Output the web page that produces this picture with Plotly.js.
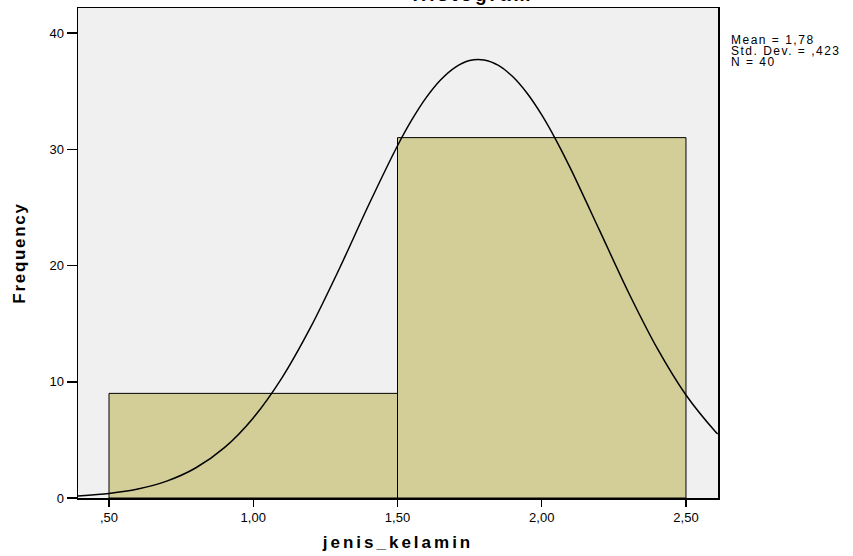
<!DOCTYPE html>
<html><head><meta charset="utf-8">
<script src="https://cdn.plot.ly/plotly-3.0.1.min.js"></script>
<style>
body{margin:0;background:#fff}#c{width:853px;height:556px}
#c .xtitle{letter-spacing:3px}
#c .ytitle{letter-spacing:1.7px}
#c .annotation[data-index="0"] .annotation-text,
#c .annotation[data-index="1"] .annotation-text,
#c .annotation[data-index="2"] .annotation-text{letter-spacing:1.5px}
#c .annotation[data-index="3"] .annotation-text{letter-spacing:3px}
</style>
</head><body><div id="c"></div>
<script>
// Histogram data
const binEdges = [0.5, 1.5, 2.5];
const counts = [9, 31];
// Normal curve
const curveX = [0.39,0.5,0.6,0.7,0.8,0.9,1.0,1.1,1.2,1.3,1.4,1.5,1.55,1.6,1.65,1.7,1.75,1.8,1.85,1.9,1.95,2.0,2.05,2.1,2.2,2.3,2.4,2.5,2.6,2.61];
const curveY = [0.17,0.39,0.77,1.45,2.58,4.33,6.89,10.36,14.74,19.81,25.2,30.3,32.54,34.46,35.98,37.05,37.63,37.68,37.21,36.23,34.79,32.95,30.77,28.33,23.04,17.72,12.89,8.86,5.76,5.5];
const xTickVals = [0.5, 1.0, 1.5, 2.0, 2.5];
const xTickText = [",50", "1,00", "1,50", "2,00", "2,50"];
const yTickVals = [0, 10, 20, 30, 40];
const statsLines = ["Mean = 1,78", "Std. Dev. = ,423", "N = 40"];

const centers = counts.map((c, i) => (binEdges[i] + binEdges[i + 1]) / 2);
const widths = counts.map((c, i) => binEdges[i + 1] - binEdges[i]);

const font = "Liberation Sans, Arial, sans-serif";
const traces = [
  {type: "bar", x: centers, y: counts, width: widths,
   marker: {color: "#D3CE98", line: {color: "#000", width: 1}}, hoverinfo: "skip"},
  {type: "scatter", mode: "lines", x: curveX, y: curveY,
   line: {color: "#000", width: 1.5, shape: "spline", smoothing: 0.8}, hoverinfo: "skip"}
];

const annotations = statsLines.map((t, i) => ({
  xref: "paper", yref: "paper", x: 1, xshift: 11, y: 1, yshift: -32 - i * 11,
  xanchor: "left", yanchor: "middle", align: "left", text: t, showarrow: false,
  font: {family: font, size: 12, color: "#000"}
}));
annotations.push({
  xref: "paper", yref: "paper", x: 0.5, xshift: 75, y: 1, yshift: 1,
  xanchor: "center", yanchor: "bottom", text: "<b>Histogram</b>", showarrow: false,
  font: {family: font, size: 19, color: "#000"}
});

const layout = {
  width: 853, height: 556,
  margin: {l: 78, r: 135, t: 8, b: 58, pad: 0},
  paper_bgcolor: "#fff", plot_bgcolor: "#F0F0F0",
  showlegend: false, bargap: 0,
  font: {family: font, size: 13, color: "#000"},
  xaxis: {range: [0.3925, 2.611], tickvals: xTickVals, ticktext: xTickText,
    ticks: "outside", ticklen: 7, tickcolor: "#000", tickwidth: 1.5,
    showgrid: false, zeroline: false, showline: true, linecolor: "#000", linewidth: 1.5, mirror: true,
    tickfont: {family: font, size: 13, color: "#000"},
    title: {text: "<b>jenis_kelamin</b>", font: {family: font, size: 17, color: "#000"}, standoff: 12}},
  yaxis: {range: [0, 42.15], tickvals: yTickVals,
    ticks: "outside", ticklen: 10, tickcolor: "#000", tickwidth: 1.5,
    showgrid: false, zeroline: false, showline: true, linecolor: "#000", linewidth: 1.5, mirror: true,
    tickfont: {family: font, size: 13, color: "#000"},
    title: {text: "<b>Frequency</b>", font: {family: font, size: 17, color: "#000"}, standoff: 19}},
  annotations: annotations
};
Plotly.newPlot("c", traces, layout, {displayModeBar: false, staticPlot: true});
</script>
</body></html>
